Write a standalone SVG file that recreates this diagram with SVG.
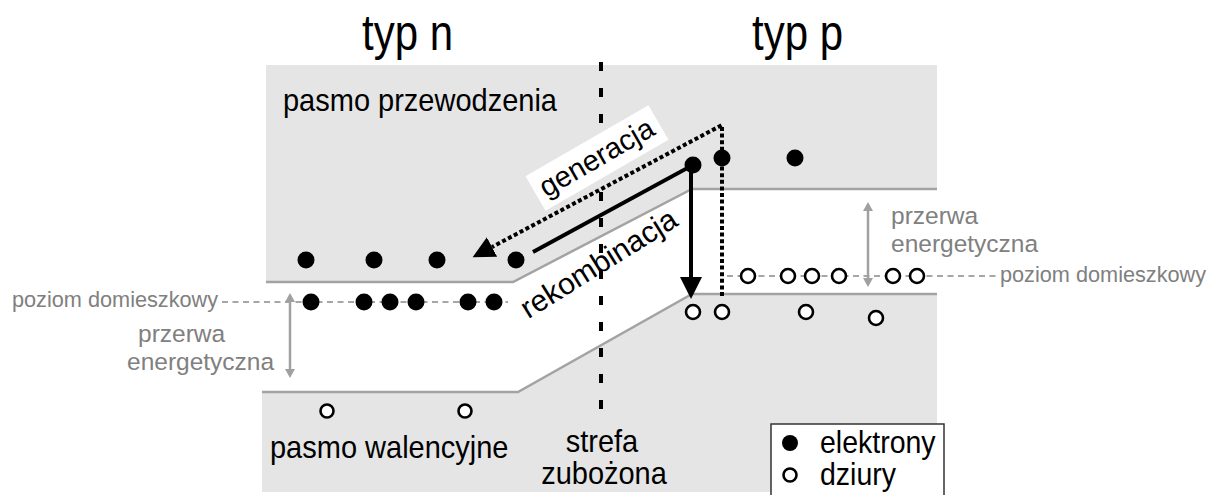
<svg xmlns="http://www.w3.org/2000/svg" width="1218" height="495" viewBox="0 0 1218 495">
<style>
text{font-family:"Liberation Sans",Arial,sans-serif;fill:#000}
.g{fill:#808080}
.band{fill:#e5e5e5;stroke:none}
.edge{fill:none;stroke:#a3a3a3;stroke-width:2.5}
.lvl{fill:none;stroke:#a6a6a6;stroke-width:2;stroke-dasharray:6 4.5}
.e{fill:#000}
.h{fill:#fff;stroke:#000;stroke-width:2.6}
.garr{fill:none;stroke:#a0a0a0;stroke-width:2.5;marker-start:url(#ga);marker-end:url(#ga)}
</style>
<defs>
<marker id="ah" markerUnits="userSpaceOnUse" markerWidth="24" markerHeight="24" refX="0" refY="11" orient="auto"><path d="M0,0 L22,11 L0,22 Z" fill="#000"/></marker>
<marker id="ga" markerUnits="userSpaceOnUse" markerWidth="12" markerHeight="12" refX="0" refY="5" orient="auto-start-reverse"><path d="M0,0 L9,5 L0,10 Z" fill="#a0a0a0"/></marker>
</defs>
<g id="bands">
<path class="band" d="M266,65 H937 V189 H692 L513,282 H266 Z"/>
<path class="band" d="M262,392 H518 L692,294 H937 V492 H262 Z"/>
<path class="edge" d="M266,282 H513 L692,189 H937"/>
<path class="edge" d="M262,392 H518 L692,294 H937"/>
</g>
<g id="titles">
<text transform="translate(362,50) scale(1,1.18)" font-size="42">typ n</text>
<text transform="translate(752,50) scale(1,1.18)" font-size="42">typ p</text>
<text transform="translate(283,111) scale(1,1.08)" font-size="29">pasmo przewodzenia</text>
<text transform="translate(270,458) scale(1,1.08)" font-size="29">pasmo walencyjne</text>
<text transform="translate(602,452) scale(1,1.08)" font-size="29" text-anchor="middle">strefa</text>
<text transform="translate(604,484) scale(1,1.08)" font-size="29" text-anchor="middle">zubożona</text>
</g>
<g id="junction">
<line x1="601" y1="62" x2="601" y2="410" stroke="#000" stroke-width="4" stroke-dasharray="9 17"/>
</g>
<g id="levels">
<line class="lvl" x1="222" y1="302" x2="508" y2="302"/>
<line class="lvl" x1="727" y1="276" x2="1000" y2="276"/>
<text class="g" x="12" y="307" font-size="21.7">poziom domieszkowy</text>
<text class="g" x="1000" y="282" font-size="21.7">poziom domieszkowy</text>
</g>
<g id="gaps">
<line class="garr" x1="290" y1="302" x2="290" y2="369"/>
<line class="garr" x1="868" y1="211" x2="868" y2="278"/>
<text class="g" x="138" y="342" font-size="24.5">przerwa</text>
<text class="g" x="127" y="370" font-size="24.5">energetyczna</text>
<text class="g" x="891" y="224" font-size="24.5">przerwa</text>
<text class="g" x="891" y="252" font-size="24.5">energetyczna</text>
</g>
<g id="connectors">
<path d="M722,296 V125 L492,247" fill="none" stroke="#000" stroke-width="4" stroke-dasharray="4 2.6" marker-end="url(#ah)"/>
<path d="M533,252 L691,166 V277" fill="none" stroke="#000" stroke-width="4" marker-end="url(#ah)"/>
</g>
<g id="label-generacja" transform="translate(597,158) rotate(-30)">
<rect x="-71" y="-20" width="142" height="40" fill="#fff"/>
<text x="0" y="9" font-size="29" text-anchor="middle">generacja</text>
</g>
<g id="label-rekombinacja" transform="translate(604,272) rotate(-32)">
<text x="0" y="0" font-size="30" text-anchor="middle">rekombinacja</text>
</g>
<g id="electrons">
<circle class="e" cx="306" cy="260" r="8.5"/>
<circle class="e" cx="374" cy="260" r="8.5"/>
<circle class="e" cx="437" cy="260" r="8.5"/>
<circle class="e" cx="516" cy="260" r="8.5"/>
<circle class="e" cx="693" cy="165" r="8.5"/>
<circle class="e" cx="722" cy="158" r="8.5"/>
<circle class="e" cx="795" cy="158" r="8.5"/>
<circle class="e" cx="311" cy="302" r="8.5"/>
<circle class="e" cx="364" cy="302" r="8.5"/>
<circle class="e" cx="390" cy="302" r="8.5"/>
<circle class="e" cx="416" cy="302" r="8.5"/>
<circle class="e" cx="468" cy="302" r="8.5"/>
<circle class="e" cx="494" cy="302" r="8.5"/>
</g>
<g id="holes">
<circle class="h" cx="748" cy="276" r="7"/>
<circle class="h" cx="788" cy="276" r="7"/>
<circle class="h" cx="812" cy="276" r="7"/>
<circle class="h" cx="839" cy="276" r="7"/>
<circle class="h" cx="893" cy="276" r="7"/>
<circle class="h" cx="917" cy="276" r="7"/>
<circle class="h" cx="693" cy="312" r="7"/>
<circle class="h" cx="722" cy="312" r="7"/>
<circle class="h" cx="806" cy="312" r="7"/>
<circle class="h" cx="876" cy="318" r="7"/>
<circle class="h" cx="327" cy="411" r="6.5" stroke-width="2.2"/>
<circle class="h" cx="465" cy="411" r="6.5" stroke-width="2.2"/>
</g>
<g id="legend">
<rect x="771" y="424" width="173" height="72" fill="#fff" stroke="#333" stroke-width="1.5"/>
<circle class="e" cx="790" cy="443" r="8"/>
<circle class="h" cx="790" cy="475" r="6.5" stroke-width="2.2"/>
<text transform="translate(820,453) scale(1,1.08)" font-size="28.5">elektrony</text>
<text transform="translate(820,485) scale(1,1.08)" font-size="28.5">dziury</text>
</g>
</svg>
